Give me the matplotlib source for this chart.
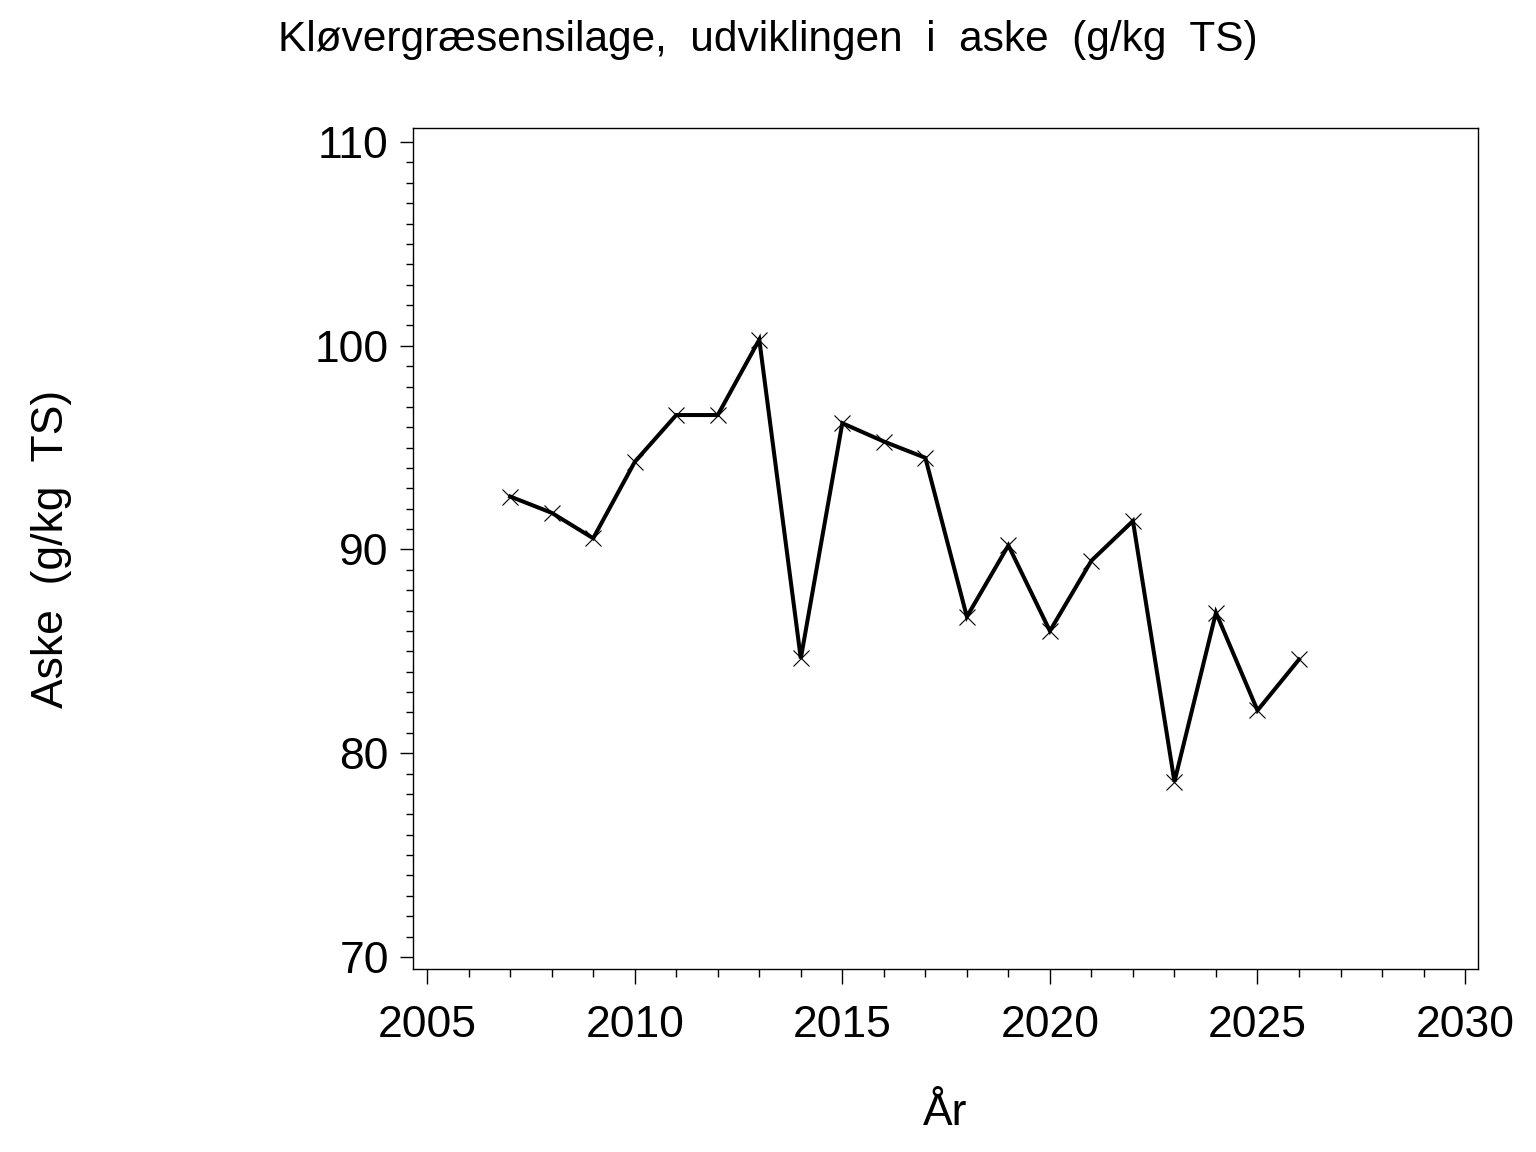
import matplotlib
matplotlib.use("Agg")
import matplotlib.pyplot as plt
from matplotlib.ticker import MultipleLocator

# values
years = [2007, 2008, 2009, 2010, 2011, 2012, 2013, 2014, 2015, 2016,
         2017, 2018, 2019, 2020, 2021, 2022, 2023, 2024, 2025, 2026]
aske = [92.6, 91.8, 90.55, 94.3, 96.6, 96.6, 100.3, 84.65, 96.2, 95.3,
        94.5, 86.7, 90.2, 86.0, 89.45, 91.4, 78.6, 86.9, 82.1, 84.6]

x_ticks = [2005, 2010, 2015, 2020, 2025, 2030]
y_ticks = [70, 80, 90, 100, 110]

plt.rcParams['font.family'] = ['Liberation Sans', 'DejaVu Sans']

fig = plt.figure(figsize=(15.36, 11.52), dpi=100)
ax = fig.add_axes([0.2689, 0.1589, 0.6933, 0.7300])

ax.plot(years, aske, color='black', lw=2.9, marker='x', ms=11,
        mew=0.8, solid_joinstyle='miter')

ax.set_xlim(2004.66, 2030.31)
ax.set_ylim(69.41, 110.69)
ax.set_xticks(x_ticks)
ax.set_yticks(y_ticks)
ax.xaxis.set_minor_locator(MultipleLocator(1))
ax.yaxis.set_minor_locator(MultipleLocator(1))

ax.tick_params(which='major', direction='out', labelsize=32, width=1.0)
ax.tick_params(axis='x', which='major', length=11, pad=15)
ax.tick_params(axis='x', which='minor', length=5.8, width=1.0)
ax.tick_params(axis='y', which='major', length=9.4, pad=8)
ax.tick_params(axis='y', which='minor', length=5, width=1.0)
for s in ax.spines.values():
    s.set_linewidth(1.0)

ax.set_xlabel('År', fontsize=32, labelpad=34)
ax.set_ylabel('Aske  (g/kg  TS)', fontsize=32)
ax.yaxis.set_label_coords(-0.32, 0.5)

fig.text(0.5, 0.965, 'Kløvergræsensilage,  udviklingen  i  aske  (g/kg  TS)',
         ha='center', va='center', fontsize=30.5)

fig.savefig('out.png', dpi=100)
